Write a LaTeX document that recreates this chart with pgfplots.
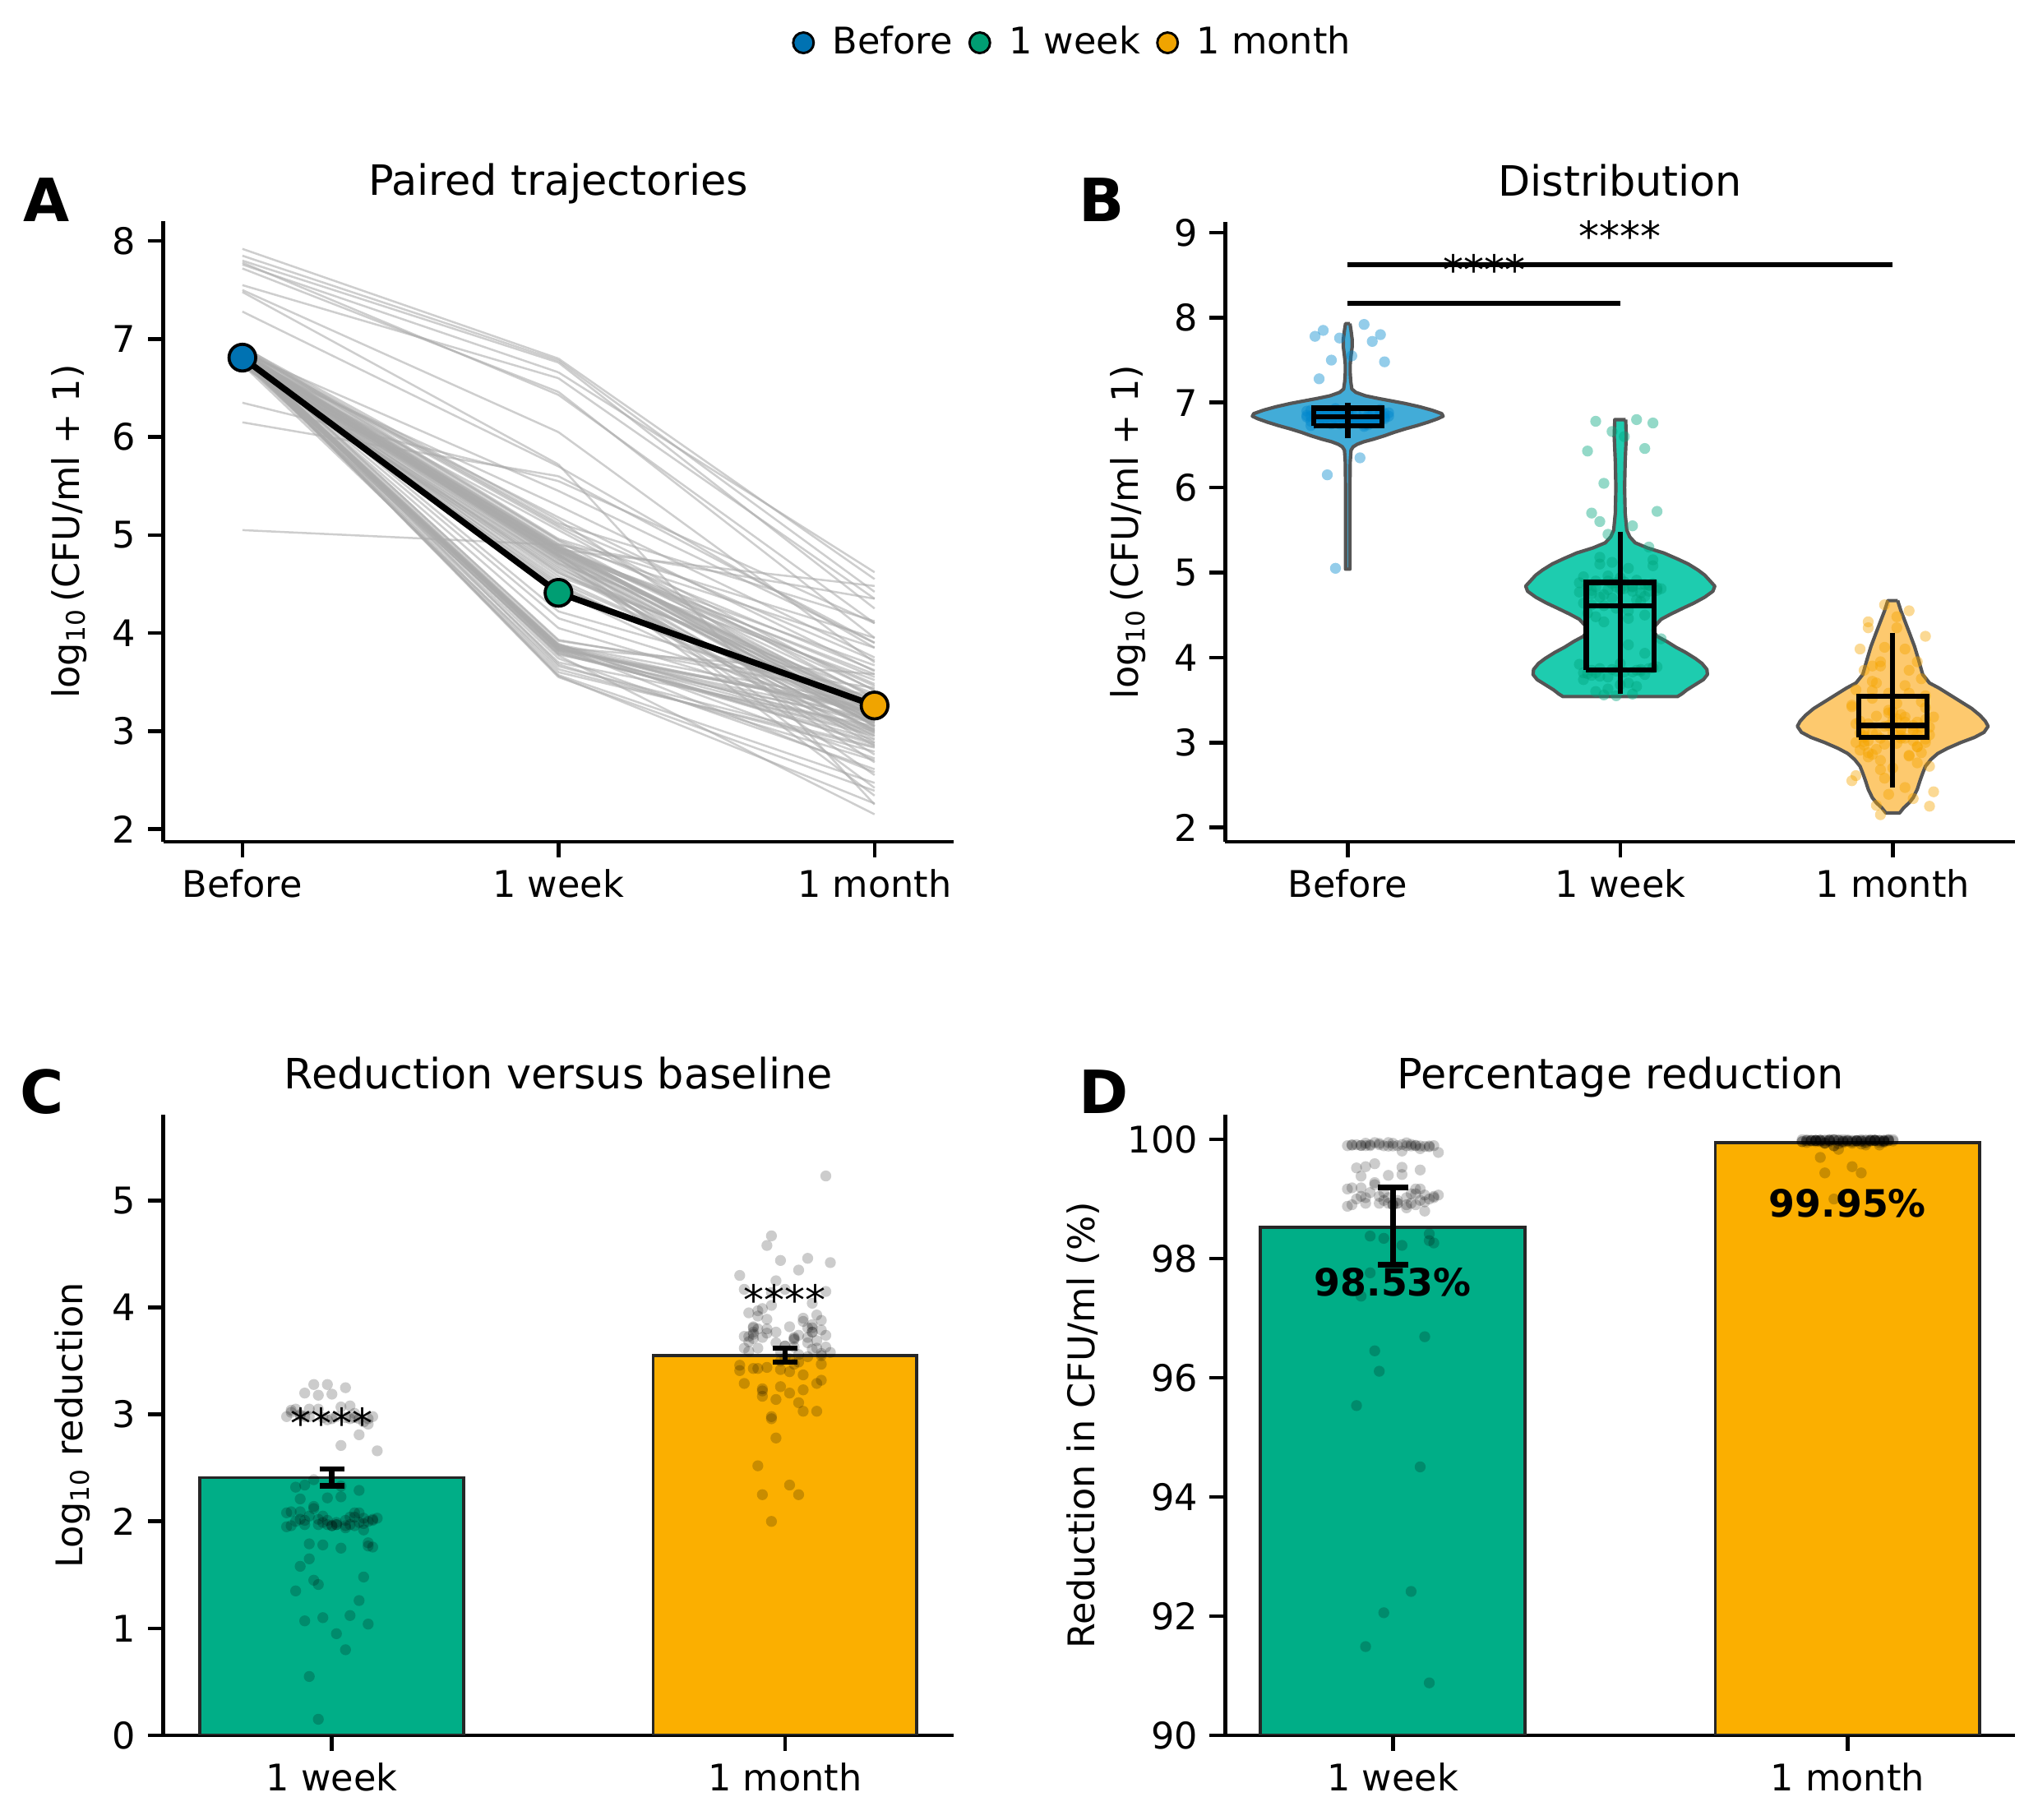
\documentclass[border=0pt]{standalone}
\usepackage{fontspec}
\setmainfont{DejaVu Sans}
\usepackage{pgfplots}
\usepackage{pgfplotstable}
\pgfplotsset{compat=1.18}

\definecolor{cBefore}{RGB}{0,114,178}
\definecolor{cWeek}{RGB}{0,158,115}
\definecolor{cMonth}{RGB}{240,164,0}
\definecolor{barWeek}{RGB}{0,174,135}
\definecolor{barMonth}{RGB}{251,175,0}
\definecolor{vBefore}{RGB}{66,172,216}
\definecolor{vWeek}{RGB}{30,204,175}
\definecolor{vMonth}{RGB}{253,201,110}
\definecolor{pBefore}{RGB}{0,135,205}
\definecolor{pWeek}{RGB}{0,165,125}
\definecolor{pMonth}{RGB}{245,165,0}
\definecolor{lineGray}{RGB}{170,170,170}
\definecolor{vEdge}{RGB}{85,85,85}

\newcommand\ticksize{\fontsize{10.7}{12.8}\selectfont}
\newcommand\titlesize{\fontsize{12.2}{14.6}\selectfont}
\newcommand\lettersize{\fontsize{17.4}{20}\selectfont\bfseries}
\newcommand\starsize{\fontsize{12}{14}\selectfont}

% subjects: jitter, before, 1 week, 1 month (log10 CFU/ml + 1)
\pgfplotstableread{
j b w m
-0.06 6.84 4.83 3.22
0.03 6.79 4.78 3.05
0.08 6.88 5.08 3.41
-0.02 6.75 4.70 2.98
0.05 6.82 4.86 3.15
-0.09 6.91 4.95 3.62
0.01 6.80 4.81 3.28
-0.04 6.86 4.74 3.10
0.07 6.77 4.85 3.48
-0.07 6.83 4.62 3.01
0.04 6.72 4.68 2.85
-0.01 6.85 4.88 3.35
0.09 6.81 4.79 3.18
-0.05 6.89 5.10 3.72
0.02 6.78 4.55 3.08
-0.08 6.84 4.84 3.25
0.06 6.80 4.72 2.76
-0.03 6.93 4.96 3.95
0.00 6.76 4.80 3.12
0.08 6.87 4.87 3.55
-0.06 6.82 4.48 3.02
0.03 6.79 4.83 3.30
-0.10 6.85 4.77 2.55
0.05 6.74 4.66 3.20
-0.02 6.90 5.12 4.12
0.07 6.83 4.85 3.14
-0.04 6.81 4.42 2.92
0.01 6.86 4.89 3.46
-0.07 6.77 4.75 3.06
0.10 6.84 4.81 2.42
-0.01 6.80 4.58 3.38
0.04 6.88 4.91 3.85
-0.09 6.73 4.64 3.00
0.06 6.85 4.86 3.24
-0.03 6.82 4.80 2.68
0.02 6.79 4.46 3.16
-0.06 6.87 4.90 4.35
0.09 6.83 4.82 3.09
-0.05 6.76 4.71 3.52
0.00 6.90 4.94 3.26
0.07 6.81 4.78 2.88
-0.08 6.84 4.52 3.11
0.03 6.78 4.84 3.67
-0.02 6.86 4.87 3.19
0.05 6.80 4.76 2.34
-0.10 6.83 4.88 3.42
0.08 6.92 5.15 3.04
-0.04 6.75 4.61 3.31
0.01 6.82 4.85 4.48
-0.07 6.88 4.79 3.13
0.06 6.79 4.50 2.95
-0.01 6.84 4.83 3.58
0.02 6.80 5.05 3.33
-0.05 6.83 5.18 3.61
0.07 6.78 5.30 3.75
-0.03 6.86 5.45 3.90
0.05 6.83 3.86 3.02
-0.06 6.80 3.82 2.88
0.02 6.86 4.15 3.15
-0.09 6.78 3.74 2.61
0.08 6.84 3.88 3.27
-0.03 6.81 3.63 2.79
0.00 6.89 3.93 3.36
0.06 6.76 3.80 2.95
-0.07 6.85 3.85 3.08
0.03 6.82 3.57 2.47
-0.01 6.79 3.84 3.20
0.09 6.87 3.89 2.72
-0.05 6.83 3.78 3.11
0.04 6.74 3.66 2.84
-0.10 6.90 3.92 3.44
0.01 6.81 3.83 2.99
-0.04 6.84 3.56 2.26
0.07 6.80 3.87 3.18
-0.08 6.86 3.81 2.91
0.02 6.77 3.70 3.05
-0.02 6.83 3.86 2.58
0.10 6.88 4.22 3.30
-0.06 6.80 3.60 2.83
0.05 6.85 3.84 3.13
-0.03 6.82 3.77 2.15
0.08 6.79 3.88 3.00
-0.09 6.84 3.82 3.22
0.00 6.87 3.68 2.70
0.04 6.81 3.85 3.58
-0.07 6.78 3.79 2.97
0.06 6.86 4.05 3.09
-0.01 6.83 3.55 2.39
0.03 6.80 3.83 3.24
-0.05 6.85 3.87 2.86
0.04 7.92 6.80 4.55
-0.06 7.85 6.78 4.42
0.08 7.80 6.76 4.25
-0.02 7.76 6.66 4.62
0.06 7.72 6.46 3.95
-0.08 7.78 6.43 4.10
0.01 7.55 6.60 4.35
-0.04 7.50 6.05 3.70
0.09 7.48 5.72 2.25
-0.07 7.28 5.70 3.85
0.03 6.35 5.55 4.10
-0.05 6.15 5.60 3.90
-0.03 5.05 4.90 3.05
}\subj

% violin outlines: y and signed half width
\pgfplotstableread{
y h
7.93 0.008
7.85 0.012
7.75 0.016
7.65 0.016
7.55 0.012
7.45 0.009
7.35 0.009
7.25 0.011
7.16 0.015
7.12 0.03
7.08 0.065
7.05 0.11
7.02 0.16
6.99 0.21
6.95 0.265
6.91 0.31
6.87 0.345
6.84 0.35
6.81 0.33
6.77 0.295
6.73 0.255
6.69 0.21
6.65 0.17
6.61 0.135
6.57 0.095
6.54 0.06
6.51 0.035
6.48 0.02
6.44 0.012
6.30 0.009
6.00 0.008
5.50 0.008
5.04 0.008
5.04 -0.008
5.50 -0.008
6.00 -0.008
6.30 -0.009
6.44 -0.012
6.48 -0.02
6.51 -0.035
6.54 -0.06
6.57 -0.095
6.61 -0.135
6.65 -0.17
6.69 -0.21
6.73 -0.255
6.77 -0.295
6.81 -0.33
6.84 -0.35
6.87 -0.345
6.91 -0.31
6.95 -0.265
6.99 -0.21
7.02 -0.16
7.05 -0.11
7.08 -0.065
7.12 -0.03
7.16 -0.015
7.25 -0.011
7.35 -0.009
7.45 -0.009
7.55 -0.012
7.65 -0.016
7.75 -0.016
7.85 -0.012
7.93 -0.008
7.93 0.008
}\vBefore

\pgfplotstableread{
y h
6.80 0.02
6.60 0.022
6.30 0.018
6.00 0.016
5.70 0.018
5.50 0.024
5.42 0.035
5.35 0.055
5.29 0.10
5.23 0.16
5.16 0.21
5.10 0.25
5.03 0.285
4.97 0.31
4.90 0.33
4.84 0.347
4.78 0.34
4.71 0.31
4.64 0.27
4.58 0.23
4.51 0.185
4.45 0.15
4.38 0.13
4.32 0.12
4.25 0.135
4.19 0.17
4.12 0.205
4.06 0.24
3.99 0.275
3.93 0.30
3.86 0.318
3.80 0.32
3.74 0.305
3.68 0.275
3.62 0.245
3.57 0.225
3.54 0.21
3.54 -0.21
3.57 -0.225
3.62 -0.245
3.68 -0.275
3.74 -0.305
3.80 -0.32
3.86 -0.318
3.93 -0.30
3.99 -0.275
4.06 -0.24
4.12 -0.205
4.19 -0.17
4.25 -0.135
4.32 -0.12
4.38 -0.13
4.45 -0.15
4.51 -0.185
4.58 -0.23
4.64 -0.27
4.71 -0.31
4.78 -0.34
4.84 -0.347
4.90 -0.33
4.97 -0.31
5.03 -0.285
5.10 -0.25
5.16 -0.21
5.23 -0.16
5.29 -0.10
5.35 -0.055
5.42 -0.035
5.50 -0.024
5.70 -0.018
6.00 -0.016
6.30 -0.018
6.60 -0.022
6.80 -0.02
6.80 0.02
}\vWeek

\pgfplotstableread{
y h
4.67 0.018
4.55 0.03
4.45 0.042
4.30 0.06
4.13 0.08
3.97 0.095
3.80 0.11
3.70 0.135
3.64 0.17
3.56 0.21
3.48 0.25
3.40 0.29
3.32 0.32
3.25 0.34
3.19 0.35
3.12 0.335
3.06 0.30
3.00 0.25
2.93 0.20
2.87 0.165
2.80 0.14
2.72 0.12
2.64 0.11
2.55 0.10
2.45 0.09
2.35 0.075
2.29 0.06
2.23 0.04
2.17 0.025
2.17 -0.025
2.23 -0.04
2.29 -0.06
2.35 -0.075
2.45 -0.09
2.55 -0.10
2.64 -0.11
2.72 -0.12
2.80 -0.14
2.87 -0.165
2.93 -0.20
3.00 -0.25
3.06 -0.30
3.12 -0.335
3.19 -0.35
3.25 -0.34
3.32 -0.32
3.40 -0.29
3.48 -0.25
3.56 -0.21
3.64 -0.17
3.70 -0.135
3.80 -0.11
3.97 -0.095
4.13 -0.08
4.30 -0.06
4.45 -0.042
4.55 -0.03
4.67 -0.018
4.67 0.018
}\vMonth

\pgfplotsset{
  panel/.style={
    scale only axis, width=230.7pt, height=181.1pt, anchor=south west,
    axis x line*=bottom, axis y line*=left,
    axis line style={-, line width=1.1pt, black},
    tick align=outside, major tick length=4.5pt,
    tick style={line width=1.1pt, black},
    tick label style={font=\ticksize},
    /pgf/number format/assume math mode=true,
    title style={font=\titlesize, at={(0.5,1)}, anchor=base, yshift=1.56pt},
    label style={font=\ticksize},
    clip mode=individual,
  },
  jit/.style={only marks, mark=*, mark size=1.6pt, mark options={fill=#1, draw=#1, fill opacity=0.42, draw opacity=0}},
  dot/.style={only marks, mark=*, mark size=1.6pt, mark options={fill=black, draw=black, fill opacity=0.2, draw opacity=0}},
  bx/.style={black, line width=1.5pt, line join=miter},
  vio/.style={fill=#1, draw=vEdge, line width=1pt, line join=round},
  ebar/.style={black, draw=none, mark=none, error bars/.cd, y dir=both, y explicit,
    error bar style={draw=black, line width=1.6pt},
    error mark options={draw=black, line width=1.6pt, rotate=90, mark size=#1}},
}

\begin{document}
\begin{tikzpicture}
\path[use as bounding box] (0pt,0pt) rectangle (594.96pt,531.36pt);

% ---------------- A ----------------
\begin{axis}[panel, at={(47.69pt,285.6pt)},
  xmin=-0.25, xmax=2.25, ymin=1.87, ymax=8.2,
  xtick={0,1,2}, xticklabels={Before,1 week,1 month}, ytick={2,3,...,8},
  title={Paired trajectories},
  ylabel={log\textsubscript{10}\,(CFU/ml + 1)},
  ylabel style={at={(axis description cs:-0.1068,0.5)}, anchor=base},
  legend columns=3,
  legend style={at={(axis description cs:1.154,1.288)}, anchor=center, draw=none, fill=none, font=\ticksize,
    /tikz/every odd column/.append style={column sep=3.5pt},
    /tikz/every even column/.append style={column sep=3pt}},
  legend image code/.code={\draw[#1] plot coordinates {(0pt,0pt)};},
]
\addplot[forget plot, line width=0.6pt, draw=lineGray, draw opacity=0.58,
  quiver={u=1, v=\thisrow{w}-\thisrow{b}}] table[x expr=0, y=b]{\subj};
\addplot[forget plot, line width=0.6pt, draw=lineGray, draw opacity=0.58,
  quiver={u=1, v=\thisrow{m}-\thisrow{w}}] table[x expr=1, y=w]{\subj};
\addplot[forget plot, black, line width=1.8pt] coordinates {(0,6.81) (1,4.41) (2,3.26)};
\addplot[forget plot, only marks, mark=*, mark size=3.9pt, mark options={fill=cBefore, draw=black, line width=0.9pt}] coordinates {(0,6.81)};
\addplot[forget plot, only marks, mark=*, mark size=3.9pt, mark options={fill=cWeek, draw=black, line width=0.9pt}] coordinates {(1,4.41)};
\addplot[forget plot, only marks, mark=*, mark size=3.9pt, mark options={fill=cMonth, draw=black, line width=0.9pt}] coordinates {(2,3.26)};
\addlegendimage{mark=*, mark size=3pt, mark options={fill=cBefore, draw=black, line width=0.7pt}}
\addlegendentry{Before}
\addlegendimage{mark=*, mark size=3pt, mark options={fill=cWeek, draw=black, line width=0.7pt}}
\addlegendentry{1 week}
\addlegendimage{mark=*, mark size=3pt, mark options={fill=cMonth, draw=black, line width=0.7pt}}
\addlegendentry{1 month}
\end{axis}

% ---------------- B ----------------
\begin{axis}[panel, at={(357.65pt,285.55pt)},
  xmin=-0.45, xmax=2.45, ymin=1.83, ymax=9.13,
  xtick={0,1,2}, xticklabels={Before,1 week,1 month}, ytick={2,3,...,9},
  title={Distribution},
  ylabel={log\textsubscript{10}\,(CFU/ml + 1)},
  ylabel style={at={(axis description cs:-0.1095,0.5)}, anchor=base},
]
\addplot[vio=vBefore] table[x expr=\thisrow{h}, y=y]{\vBefore};
\addplot[vio=vWeek] table[x expr=1+\thisrow{h}, y=y]{\vWeek};
\addplot[vio=vMonth] table[x expr=2+\thisrow{h}, y=y]{\vMonth};
\addplot[jit=pBefore] table[x expr=1.5*\thisrow{j}, y=b]{\subj};
\addplot[jit=pWeek] table[x expr=1+1.5*\thisrow{j}, y=w]{\subj};
\addplot[jit=pMonth] table[x expr=2+1.5*\thisrow{j}, y=m]{\subj};
% boxes
\addplot[bx] coordinates {(-0.125,6.725) (0.125,6.725) (0.125,6.934) (-0.125,6.934) (-0.125,6.725)};
\addplot[bx] coordinates {(-0.125,6.83) (0.125,6.83)};
\addplot[bx] coordinates {(0,6.58) (0,7.0)};
\addplot[bx] coordinates {(0.875,3.853) (1.125,3.853) (1.125,4.885) (0.875,4.885) (0.875,3.853)};
\addplot[bx] coordinates {(0.875,4.61) (1.125,4.61)};
\addplot[bx] coordinates {(1,3.57) (1,5.48)};
\addplot[bx] coordinates {(1.875,3.06) (2.125,3.06) (2.125,3.545) (1.875,3.545) (1.875,3.06)};
\addplot[bx] coordinates {(1.875,3.20) (2.125,3.20)};
\addplot[bx] coordinates {(2,2.47) (2,4.29)};
% significance
\addplot[black, line width=1.4pt] coordinates {(0,8.17) (1,8.17)};
\addplot[black, line width=1.4pt] coordinates {(0,8.62) (2,8.62)};
\node[font=\starsize, anchor=base, inner sep=0pt] at (axis cs:0.5,8.39) {****};
\node[font=\starsize, anchor=base, inner sep=0pt] at (axis cs:1,8.78) {****};
\end{axis}

% ---------------- C ----------------
\begin{axis}[panel, at={(47.69pt,24.72pt)},
  xmin=-0.372, xmax=1.372, ymin=0, ymax=5.8,
  xtick={0,1}, xticklabels={1 week,1 month}, ytick={0,1,...,5},
  title={Reduction versus baseline},
  ylabel={Log\textsubscript{10} reduction},
  ylabel style={at={(axis description cs:-0.102,0.5)}, anchor=base},
]
\addplot[ybar, bar width=0.582, bar shift=0pt, fill=barWeek, draw=black!85, line width=0.9pt] coordinates {(0,2.41)};
\addplot[ybar, bar width=0.582, bar shift=0pt, fill=barMonth, draw=black!85, line width=0.9pt] coordinates {(1,3.55)};
\addplot[dot] table[x expr=\thisrow{j}, y expr=\thisrow{b}-\thisrow{w}]{\subj};
\addplot[dot] table[x expr=1+\thisrow{j}, y expr=\thisrow{b}-\thisrow{m}]{\subj};
\addplot[ebar=3.6pt] coordinates {(0,2.41) +- (0,0.08) (1,3.555) +- (0,0.065)};
\node[font=\starsize, anchor=base, inner sep=0pt] at (axis cs:0,2.78) {****};
\node[font=\starsize, anchor=base, inner sep=0pt] at (axis cs:1,3.93) {****};
\end{axis}

% ---------------- D ----------------
\begin{axis}[panel, at={(357.65pt,24.72pt)},
  xmin=-0.369, xmax=1.369, ymin=90, ymax=100.41,
  xtick={0,1}, xticklabels={1 week,1 month}, ytick={90,92,...,100},
  title={Percentage reduction},
  ylabel={Reduction in CFU/ml (\%)},
  ylabel style={at={(axis description cs:-0.1647,0.5)}, anchor=base},
]
\addplot[ybar, bar width=0.582, bar shift=0pt, fill=barWeek, draw=black!85, line width=0.9pt] coordinates {(0,98.53)};
\addplot[ybar, bar width=0.582, bar shift=0pt, fill=barMonth, draw=black!85, line width=0.9pt] coordinates {(1,99.95)};
\addplot[dot, restrict y to domain=89.8:100.6] table[x expr=\thisrow{j}, y expr=100*(1-10^(-(\thisrow{b}-\thisrow{w})))]{\subj};
\addplot[dot, restrict y to domain=89.8:100.6] table[x expr=1+\thisrow{j}, y expr=100*(1-10^(-(\thisrow{b}-\thisrow{m})))]{\subj};
\addplot[ebar=4.4pt] coordinates {(0,98.545) +- (0,0.645)};
\node[font=\fontsize{11}{13}\selectfont\bfseries, anchor=base, inner sep=0pt] at (axis cs:0,97.37) {98.53\%};
\node[font=\fontsize{11}{13}\selectfont\bfseries, anchor=base, inner sep=0pt] at (axis cs:1,98.70) {99.95\%};
\end{axis}

% panel letters
\node[font=\lettersize, anchor=base west, inner sep=0pt] at (6.72pt,466.68pt) {A};
\node[font=\lettersize, anchor=base west, inner sep=0pt] at (314.88pt,466.68pt) {B};
\node[font=\lettersize, anchor=base west, inner sep=0pt] at (5.76pt,206.16pt) {C};
\node[font=\lettersize, anchor=base west, inner sep=0pt] at (314.88pt,206.16pt) {D};
\end{tikzpicture}
\end{document}
